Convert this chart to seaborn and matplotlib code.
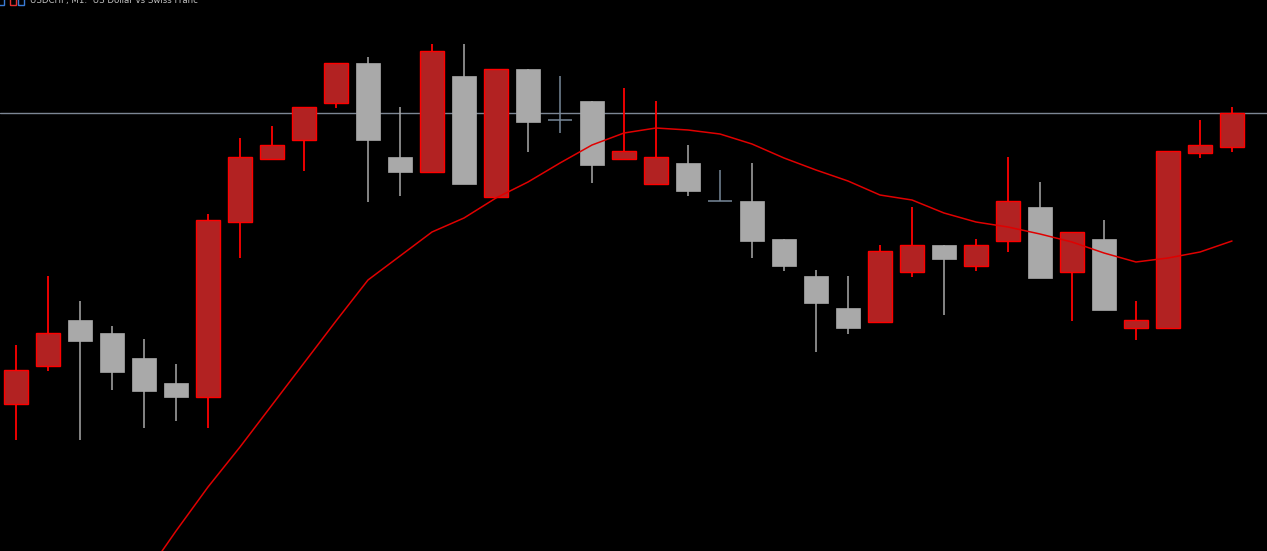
import numpy as np
import pandas as pd
import matplotlib
matplotlib.use("Agg")
import matplotlib.pyplot as plt
from matplotlib.patches import Rectangle
import seaborn as sns

# USDCHF M1 candles
opens = [0.91096, 0.91134, 0.91180, 0.91167, 0.91142, 0.91117, 0.91103, 0.91278, 0.91341, 0.91360,
         0.91397, 0.91437, 0.91343, 0.91328, 0.91424, 0.91303, 0.91431, 0.91380, 0.91399, 0.91341,
         0.91316, 0.91337, 0.91299, 0.91299, 0.91261, 0.91224, 0.91192, 0.91178, 0.91228, 0.91255,
         0.91234, 0.91259, 0.91293, 0.91228, 0.91261, 0.91172, 0.91172, 0.91347, 0.91353]
highs = [0.91155, 0.91224, 0.91199, 0.91174, 0.91161, 0.91136, 0.91286, 0.91362, 0.91374, 0.91393,
         0.91437, 0.91443, 0.91393, 0.91456, 0.91456, 0.91431, 0.91431, 0.91424, 0.91399, 0.91412,
         0.91399, 0.91355, 0.91330, 0.91337, 0.91261, 0.91230, 0.91224, 0.91255, 0.91293, 0.91255,
         0.91261, 0.91343, 0.91318, 0.91268, 0.91280, 0.91199, 0.91349, 0.91380, 0.91393]
lows = [0.91060, 0.91129, 0.91060, 0.91110, 0.91072, 0.91079, 0.91072, 0.91242, 0.91341, 0.91329,
        0.91392, 0.91298, 0.91304, 0.91328, 0.91316, 0.91303, 0.91348, 0.91367, 0.91317, 0.91341,
        0.91316, 0.91304, 0.91299, 0.91242, 0.91229, 0.91148, 0.91166, 0.91178, 0.91223, 0.91185,
        0.91229, 0.91248, 0.91222, 0.91179, 0.91190, 0.91160, 0.91172, 0.91342, 0.91348]
closes = [0.91130, 0.91167, 0.91159, 0.91128, 0.91109, 0.91103, 0.91280, 0.91343, 0.91355, 0.91393,
          0.91437, 0.91360, 0.91328, 0.91449, 0.91316, 0.91431, 0.91378, 0.91380, 0.91335, 0.91349,
          0.91343, 0.91309, 0.91299, 0.91259, 0.91234, 0.91197, 0.91172, 0.91249, 0.91255, 0.91241,
          0.91255, 0.91299, 0.91222, 0.91268, 0.91190, 0.91180, 0.91349, 0.91355, 0.91387]
ma = [np.nan, np.nan, np.nan, np.nan, 0.90923, 0.90969, 0.91013, 0.91053, 0.91095, 0.91137,
      0.91179, 0.91220, 0.91244, 0.91268, 0.91282, 0.91302, 0.91318, 0.91337, 0.91355, 0.91367,
      0.91372, 0.91370, 0.91366, 0.91356, 0.91342, 0.91330, 0.91319, 0.91305, 0.91300, 0.91287,
      0.91278, 0.91273, 0.91266, 0.91258, 0.91247, 0.91238, 0.91242, 0.91248, 0.91259]
bid = 0.91387
title = "USDCHF, M1:  US Dollar vs Swiss Franc"

df = pd.DataFrame({"open": opens, "high": highs, "low": lows, "close": closes, "ma": ma})
df["i"] = np.arange(len(df))

sns.set_style("dark", {"axes.facecolor": "black", "figure.facecolor": "black"})

fig = plt.figure(figsize=(12.67, 5.51), dpi=100)
ax = fig.add_axes([0, 0, 1, 1])
ax.set_facecolor("black")

up = df[df.close > df.open]
down = df[df.close < df.open]
doji = df[df.close == df.open]
w = 0.72

# bid line
ax.axhline(bid, color="#7c8694", lw=1, zorder=1)

# wicks
ax.vlines(up.i, up.low, up.high, color="#ff0000", lw=1.3, zorder=2)
ax.vlines(down.i, down.low, down.high, color="#a9a9a9", lw=1.1, zorder=2)
ax.vlines(doji.i, doji.low, doji.high, color="#778899", lw=1.1, zorder=2)
ax.hlines(doji.close, doji.i - w / 2, doji.i + w / 2, color="#778899", lw=1.1, zorder=2)

# bodies
ax.bar(up.i, up.close - up.open, bottom=up.open, width=w,
       color="#b22222", edgecolor="#ff0000", linewidth=1, zorder=3)
ax.bar(down.i, down.close - down.open, bottom=down.open, width=w,
       color="#a9a9a9", edgecolor="#a9a9a9", linewidth=0.5, zorder=3)

# moving average
sns.lineplot(data=df, x="i", y="ma", color="#e00000", lw=1.1, ax=ax, zorder=4)

ax.set_xlim(-0.5, 39.094)
ax.set_ylim(0.90949, 0.91500)
ax.set_axis_off()

# header (partly cut off at top, as in the terminal window)
H = 551.0
W = 1267.0
fig.text(30 / W, 1 - 3.5 / H, title, color="#c0c0c0", fontsize=6.2,
         family="DejaVu Sans", va="baseline", ha="left")
for x0, col in [(-2, "#3a7bd5"), (10, "#e03030"), (18, "#3a7bd5")]:
    fig.patches.append(Rectangle((x0 / W, 1 - 4.5 / H), 6 / W, 10 / H, transform=fig.transFigure,
                                 fill=False, edgecolor=col, lw=1, figure=fig))

fig.savefig("out.png", dpi=100, facecolor="black")
